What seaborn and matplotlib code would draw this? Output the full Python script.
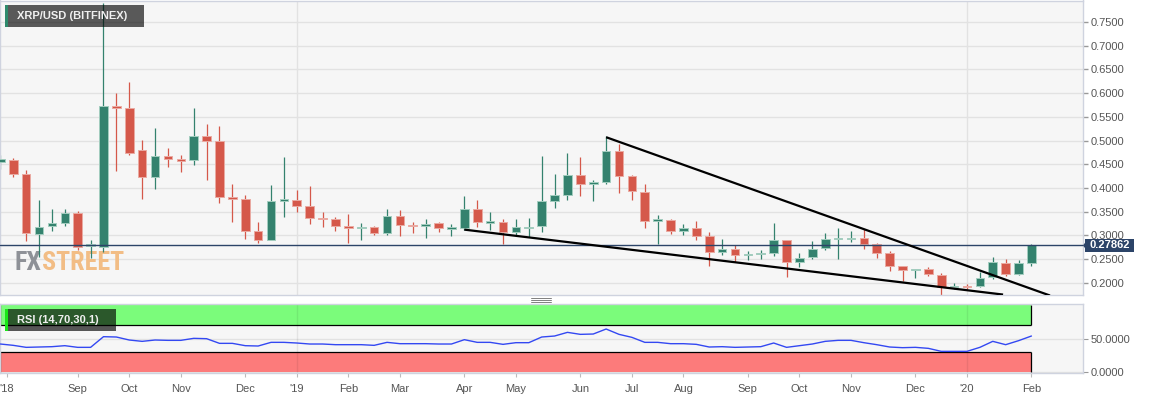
import numpy as np
import pandas as pd
import matplotlib
matplotlib.use("Agg")
import matplotlib.pyplot as plt
import matplotlib.transforms as mtransforms
from matplotlib.patches import Rectangle, Polygon
from matplotlib.lines import Line2D
import seaborn as sns

# ---------------- data (weekly candles, XRP/USD Bitfinex) ----------------
weeks = pd.date_range("2018-07-27", periods=81, freq="7D")

opens = [0.455, 0.458, 0.430, 0.302, 0.319, 0.327, 0.347, 0.277, 0.275, 0.573,
         0.569, 0.479, 0.423, 0.467, 0.460, 0.458, 0.509, 0.498, 0.380, 0.377,
         0.310, 0.291, 0.372, 0.375, 0.361, 0.336, 0.335, 0.319, 0.315, 0.317,
         0.305, 0.340, 0.321, 0.320, 0.325, 0.314, 0.316, 0.356, 0.327, 0.329,
         0.306, 0.316, 0.319, 0.372, 0.386, 0.428, 0.409, 0.412, 0.478, 0.426,
         0.391, 0.331, 0.333, 0.310, 0.316, 0.299, 0.265, 0.272, 0.259, 0.261,
         0.262, 0.290, 0.243, 0.254, 0.273, 0.292, 0.293, 0.295, 0.281, 0.263,
         0.235, 0.227, 0.228, 0.216, 0.191, 0.194, 0.194, 0.212, 0.242, 0.219,
         0.242]
highs = [0.470, 0.463, 0.438, 0.375, 0.356, 0.356, 0.351, 0.291, 0.790, 0.600,
         0.624, 0.502, 0.526, 0.485, 0.469, 0.569, 0.535, 0.531, 0.409, 0.386,
         0.329, 0.407, 0.466, 0.395, 0.405, 0.350, 0.338, 0.344, 0.327, 0.319,
         0.355, 0.353, 0.329, 0.334, 0.329, 0.324, 0.384, 0.375, 0.350, 0.335,
         0.334, 0.337, 0.468, 0.430, 0.474, 0.465, 0.416, 0.510, 0.493, 0.428,
         0.409, 0.342, 0.335, 0.324, 0.331, 0.307, 0.293, 0.279, 0.267, 0.268,
         0.327, 0.291, 0.263, 0.288, 0.305, 0.316, 0.310, 0.314, 0.284, 0.266,
         0.235, 0.228, 0.234, 0.221, 0.200, 0.197, 0.222, 0.255, 0.251, 0.247,
         0.281]
lows = [0.440, 0.424, 0.288, 0.254, 0.310, 0.319, 0.268, 0.253, 0.265, 0.435,
        0.469, 0.376, 0.398, 0.445, 0.434, 0.449, 0.416, 0.369, 0.328, 0.293,
        0.284, 0.291, 0.338, 0.349, 0.323, 0.317, 0.310, 0.284, 0.291, 0.301,
        0.300, 0.299, 0.305, 0.295, 0.307, 0.299, 0.312, 0.317, 0.311, 0.282,
        0.300, 0.296, 0.308, 0.358, 0.375, 0.384, 0.372, 0.409, 0.390, 0.374,
        0.316, 0.282, 0.303, 0.300, 0.291, 0.236, 0.258, 0.243, 0.247, 0.251,
        0.257, 0.213, 0.234, 0.251, 0.270, 0.250, 0.286, 0.272, 0.252, 0.224,
        0.203, 0.211, 0.214, 0.175, 0.187, 0.186, 0.192, 0.208, 0.214, 0.217,
        0.236]
closes = [0.460, 0.430, 0.305, 0.317, 0.327, 0.347, 0.275, 0.281, 0.573, 0.569,
          0.473, 0.423, 0.468, 0.461, 0.457, 0.509, 0.498, 0.381, 0.377, 0.310,
          0.291, 0.373, 0.376, 0.362, 0.336, 0.334, 0.319, 0.315, 0.317, 0.305,
          0.340, 0.322, 0.319, 0.324, 0.315, 0.317, 0.356, 0.329, 0.330, 0.306,
          0.317, 0.318, 0.372, 0.386, 0.428, 0.409, 0.412, 0.478, 0.426, 0.393,
          0.331, 0.334, 0.310, 0.315, 0.299, 0.265, 0.272, 0.259, 0.261, 0.263,
          0.291, 0.243, 0.253, 0.272, 0.292, 0.294, 0.295, 0.281, 0.263, 0.236,
          0.227, 0.228, 0.218, 0.192, 0.194, 0.191, 0.211, 0.243, 0.219, 0.241,
          0.27862]
rsi = [42, 40, 37, 37.5, 38, 39.5, 37, 37, 53, 52.5,
       48, 46, 48, 47.5, 47.5, 50.5, 50, 43, 43, 39.5,
       39, 44.5, 44.5, 43.5, 42, 42, 41, 41, 41, 40,
       44.5, 42.5, 42.5, 42.5, 42, 42, 48.5, 44.5, 44.5, 41.5,
       44, 44, 52.5, 54, 59.5, 56.5, 57, 64.5, 56.5, 52,
       44.5, 44.5, 42.5, 42.5, 41.5, 37.5, 38, 37, 37.5, 38,
       43.5, 37, 39.5, 42, 46, 47.5, 47.5, 44, 41, 37.5,
       36.5, 37, 35.5, 31, 31, 31, 37, 46, 41, 47, 54]

price_ticks = [0.20, 0.25, 0.30, 0.35, 0.40, 0.45, 0.50, 0.55, 0.60, 0.65, 0.70, 0.75]
rsi_ticks = [0, 50]
last_price = 0.27862
# wedge trendlines (candle position, price)
upper_trend_x = [41, 75.44]
upper_trend_y = [0.507, 0.173]
lower_trend_x = [30, 71.8]
lower_trend_y = [0.312, 0.175]
rsi_upper, rsi_lower = 70, 30

# ---------------- styling ----------------
sns.set_style("white")
plt.rcParams['font.family'] = ['Liberation Sans', 'DejaVu Sans']

GREEN = "#34826e"
GREEN_EDGE = "#a3cdbf"
RED = "#d5584a"
RED_EDGE = "#eaaaa2"
NAVY = "#2c4468"
BG = "#f6f6f6"
SPINE = "#cfd3df"
GRID = "#e2e2e2"

W, H = 1153, 399
fig = plt.figure(figsize=(W / 100, H / 100), dpi=100)
fig.patch.set_facecolor("white")

ax = fig.add_axes([0, 1 - 295 / H, 1082.6 / W, 294.5 / H])
ax2 = fig.add_axes([0, 1 - 373.3 / H, 1082.6 / W, 69 / H])

# candle positions: weeks since the first Friday of Sep 2018
x = np.asarray((weeks - pd.Timestamp("2018-09-07")).days / 7.0)
o = np.array(opens); h = np.array(highs); l = np.array(lows); c = np.array(closes)
up = c >= o
col = np.where(up, GREEN, RED)
ecol = np.where(up, GREEN_EDGE, RED_EDGE)

for a in (ax, ax2):
    a.set_facecolor(BG)
    for s in a.spines.values():
        s.set_color(SPINE)
        s.set_linewidth(1)
    a.set_xlim(-6.03, 77.97)

# ---- main price panel ----
ax.set_ylim(0.1741, 0.7954)
ax.set_yticks(price_ticks)
ax.set_yticklabels([f"{v:.4f}" for v in price_ticks])
ax.yaxis.tick_right()
ax.tick_params(axis="y", length=3.5, color="#999999", labelcolor="#555555",
               labelsize=8, pad=2, width=1)
ax.set_xticks([])
ax.grid(axis="y", color=GRID, lw=1, zorder=0)
ax.set_axisbelow(True)

# year boundary grid lines (first candle of January)
dfw = pd.DataFrame({"x": x, "d": weeks})
month_first = dfw.groupby([dfw.d.dt.year, dfw.d.dt.month]).x.min()
year_pos = [pos for (yy, mm), pos in month_first.items() if mm == 1]
for yp in year_pos:
    ax.axvline(yp, color=GRID, lw=1, zorder=0.5)

ax.vlines(x, l, h, colors=col, linewidth=0.9, zorder=2)
ax.bar(x, np.maximum(np.abs(c - o), 0.0015), bottom=np.minimum(o, c), width=0.67,
       color=col, edgecolor=ecol, linewidth=0.7, zorder=3)

ax.axhline(last_price, color=NAVY, lw=1, zorder=4)
ax.plot(upper_trend_x, upper_trend_y, color="black", lw=1.6, zorder=5,
        solid_capstyle="butt")
ax.plot(lower_trend_x, lower_trend_y, color="black", lw=1.6, zorder=5,
        solid_capstyle="butt")

# price tag on the right axis
bt = mtransforms.blended_transform_factory(ax.transAxes, ax.transData)
aw = 1082.6
ax.add_patch(Rectangle((1 + 2.4 / aw, last_price - 0.0141), 48.5 / aw, 0.0282,
                       transform=bt, facecolor=NAVY, edgecolor="none", clip_on=False, zorder=6))
ax.add_patch(Polygon([(1 + 0.3 / aw, last_price), (1 + 2.6 / aw, last_price + 0.006),
                      (1 + 2.6 / aw, last_price - 0.006)], closed=True,
                     transform=bt, facecolor=NAVY, edgecolor="none", clip_on=False, zorder=6))
ax.text(1 + 26.7 / aw, last_price, f"{last_price:.5f}", transform=bt, ha="center",
        va="center", color="white", fontsize=8, fontweight="bold", zorder=7, clip_on=False)

# ---- RSI panel ----
ax2.set_ylim(-1.95, 101.6)
ax2.set_yticks(rsi_ticks)
ax2.set_yticklabels([f"{v:.4f}" for v in rsi_ticks])
ax2.yaxis.tick_right()
ax2.tick_params(axis="y", length=3.5, color="#999999", labelcolor="#555555",
                labelsize=8, pad=2)
ax2.grid(axis="y", color=GRID, lw=1, zorder=0)
ax2.set_axisbelow(True)

ax2.fill_between(x, rsi_lower * 0, rsi_lower, color="#fc7b7b", lw=0, zorder=1)
ax2.fill_between(x, rsi_upper, 100, color="#7bfc7b", lw=0, zorder=1)
ax2.hlines([rsi_upper, rsi_lower], x.min(), x.max(), colors="black", lw=0.9, zorder=2)
ax2.vlines([x.min(), x.max()], rsi_upper, 100, colors="black", lw=0.9, zorder=2)
ax2.vlines([x.min(), x.max()], 0, rsi_lower, colors="black", lw=0.9, zorder=2)
for yp in year_pos:
    ax2.axvline(yp, color="black", alpha=0.07, lw=1, zorder=2.5)
sns.lineplot(x=x, y=rsi, ax=ax2, color="#3348f2", linewidth=1, zorder=3)

# month ticks
tick_pos, tick_lab = [-5.5], ["'18"]
for (yy, mm), pos in month_first.items():
    if pos < 0:
        continue
    tick_pos.append(pos)
    tick_lab.append(f"'{str(yy)[2:]}" if mm == 1 else pd.Timestamp(yy, mm, 1).strftime("%b"))
ax2.set_xticks(tick_pos)
ax2.set_xticklabels(tick_lab)
ax2.tick_params(axis="x", length=3, color="#bbbbbb", labelcolor="#555555",
                labelsize=8, pad=5, bottom=True)
ax2.set_xlabel("")
ax2.set_ylabel("")


# ---- decorations in figure pixel coordinates ----
def box(x0, y0, x1, y1, color, alpha=1.0, z=10):
    fig.add_artist(Rectangle((x0 / W, 1 - y1 / H), (x1 - x0) / W, (y1 - y0) / H,
                             transform=fig.transFigure, facecolor=color, alpha=alpha,
                             edgecolor="none", zorder=z))


box(5, 5, 144, 27, "black", 0.64)
box(5, 5, 7.5, 27, "#2e8a6c", 1.0, 11)
fig.text(16.7 / W, 1 - 16.3 / H, "XRP/USD (BITFINEX)", color="#f0f0f0", fontsize=8,
         fontweight="bold", va="center", ha="left", zorder=12)

box(5, 309, 116, 331, "black", 0.65)
box(5, 309, 8.4, 331, "#19e619", 1.0, 11)
fig.text(17 / W, 1 - 320.3 / H, "RSI (14,70,30,1)", color="#f0f0f0", fontsize=8,
         fontweight="bold", va="center", ha="left", zorder=12)

# resize handle between panels
for yy in (297.6, 299.6, 301.6):
    fig.add_artist(Line2D([531 / W, 551 / W], [1 - yy / H, 1 - yy / H], color="#808080",
                          lw=0.7, transform=fig.transFigure))

# watermark
fam = ["Liberation Sans Narrow", "Roboto Condensed", "Liberation Sans", "DejaVu Sans"]
t1 = ax.text(15 / W, 1 - 262.6 / H, "FX", transform=fig.transFigure, color="#8e9197",
             fontsize=20, fontweight="bold", family=fam, va="center", ha="left", zorder=1)
fig.canvas.draw()
r = fig.canvas.get_renderer()
t2 = ax.text(0, 1 - 262.6 / H, "STREET", transform=fig.transFigure, color="#f2bd85",
             fontsize=20, fontweight="bold", family=fam, va="center", ha="left", zorder=1)
w1 = t1.get_window_extent(r).width
w2 = t2.get_window_extent(r).width
scale = 109.0 / (w1 + w2)
fs = min(20 * scale, 26)
t1.set_fontsize(fs)
t2.set_fontsize(fs)
fig.canvas.draw()
w1 = t1.get_window_extent(r).width
t2.set_x((15 + w1) / W)

fig.savefig("out.png", dpi=100, facecolor="white")
